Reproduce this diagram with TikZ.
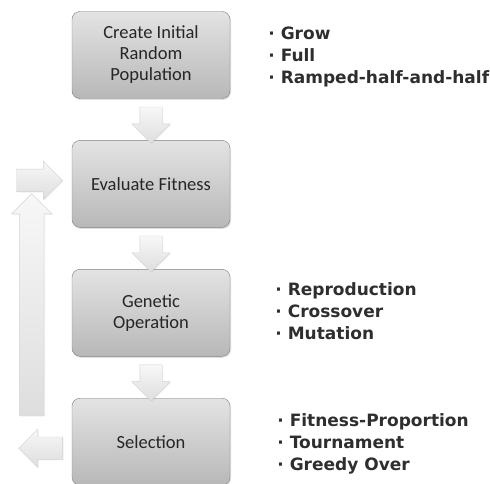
\documentclass[tikz,border=0pt]{standalone}
\usepackage{fontspec}
\setmainfont{Carlito}
\newfontfamily\listfont{DejaVu Sans}
\usetikzlibrary{positioning,shapes.arrows,shadows,calc}

\begin{document}
\begin{tikzpicture}[x=1pt,y=-1pt,
  stage/.style={draw=black!50, rounded corners=8pt, top color=black!11, bottom color=black!28,
    minimum width=158pt, minimum height=87pt, align=center, text=black!85,
    font=\fontsize{18.5}{21}\selectfont,
    drop shadow={opacity=0.25, shadow xshift=1pt, shadow yshift=-1.5pt}},
  blk/.style={single arrow, draw=black!18, top color=black!3, bottom color=black!13,
    inner sep=11pt, minimum width=38pt, single arrow head extend=8pt,
    drop shadow={opacity=0.12, shadow xshift=1pt, shadow yshift=-1pt}},
  opts/.style={align=left, inner sep=0pt, text=black!82,
    font=\listfont\bfseries\fontsize{17}{22}\selectfont}]
\useasboundingbox (0,0) rectangle (490,484);
%
\node[stage] (create) at (151,55) {Create Initial\\Random\\Population};
\node[stage, below=41.5pt of create] (eval) {Evaluate Fitness};
\node[stage, below=41.5pt of eval] (genop) {Genetic\\Operation};
\node[stage, below=41.5pt of genop] (select) {Selection};
%
\node[blk, shape border rotate=270, minimum height=36pt] (a1) at ($(create.south)!0.5!(eval.north)$) {};
\node[blk, shape border rotate=270, minimum height=36pt] (a2) at ($(eval.south)!0.5!(genop.north)$) {};
\node[blk, shape border rotate=270, minimum height=36pt] (a3) at ($(genop.south)!0.5!(select.north)$) {};
%
\node[blk, minimum height=46pt, left=9pt of eval, yshift=3.5pt] (into) {};
\node[blk, shape border rotate=90, minimum height=222pt, inner sep=12pt] (back) at ($(genop.west)+(-40,-2)$) {};
\node[blk, shape border rotate=180, minimum height=44pt, left=9pt of select, yshift=-6.5pt] (out) {};
%
\node[opts, right=38pt of create, yshift=-2pt] (initlist) {· Grow\\· Full\\· Ramped-half-and-half};
\node[opts, right=45pt of genop, yshift=1.5pt] (oplist) {· Reproduction\\· Crossover\\· Mutation};
\node[opts, right=47pt of select, yshift=-2pt] (sellist) {· Fitness-Proportion\\· Tournament\\· Greedy Over};
\end{tikzpicture}
\end{document}
